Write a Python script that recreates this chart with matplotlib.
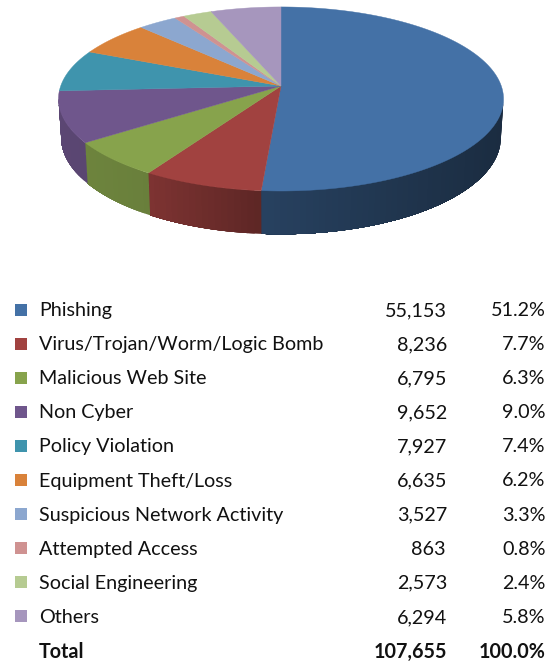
import numpy as np
import matplotlib
matplotlib.use("Agg")
import matplotlib.pyplot as plt
from matplotlib.patches import Polygon, Rectangle

categories = ["Phishing", "Virus/Trojan/Worm/Logic Bomb", "Malicious Web Site", "Non Cyber",
              "Policy Violation", "Equipment Theft/Loss", "Suspicious Network Activity",
              "Attempted Access", "Social Engineering", "Others"]
counts = [55153, 8236, 6795, 9652, 7927, 6635, 3527, 863, 2573, 6294]
count_labels = ["55,153", "8,236", "6,795", "9,652", "7,927", "6,635", "3,527", "863", "2,573", "6,294"]
pct_labels = ["51.2%", "7.7%", "6.3%", "9.0%", "7.4%", "6.2%", "3.3%", "0.8%", "2.4%", "5.8%"]
colors = ["#4471a6", "#a14240", "#87a34c", "#6f568c", "#3f94ad", "#d9823a",
          "#8ca7cf", "#cf9291", "#b6cb92", "#a696bd"]
total_label = "Total"
total_count = "107,655"
total_pct = "100.0%"

plt.rcParams['font.family'] = ['Lato', 'DejaVu Sans']

# perspective of the tilted disc, in pixels
cx, cy = 281, 86
R, A, k = 220.3, 90.2, 0.141


def project(theta):
    u = np.sin(theta)
    v = -np.cos(theta)
    w = 1 - k * v
    return R * u / w, A * v / w


def top_xy(theta):
    x, y = project(theta)
    return cx + x, cy + y


def bottom_xy(theta):
    x, y = project(theta)
    return cx + x * 0.988, cy + 38 + y * 1.05


def darker(color, f):
    rgb = np.array(matplotlib.colors.to_rgb(color))
    return tuple(rgb * f)


fig = plt.figure(figsize=(5.47, 6.63), dpi=100)
ax = fig.add_axes([0, 0, 1, 1])
ax.set_xlim(0, 547)
ax.set_ylim(663, 0)
ax.axis("off")

edges = 2 * np.pi * np.cumsum([0] + counts) / sum(counts)

# side wall, only the part facing the viewer. strips overlap so no seams show
for i, c in enumerate(colors):
    start = max(edges[i], np.arccos(-k))
    stop = min(edges[i + 1], 2 * np.pi - np.arccos(-k))
    if stop <= start:
        continue
    steps = np.linspace(start, stop, max(2, int((stop - start) * 40)))
    for a, b in zip(steps[:-1], steps[1:]):
        t = np.linspace(a, stop, 40)
        xs, ys = top_xy(t)
        xb, yb = bottom_xy(t)
        pts = list(zip(xs, ys)) + list(zip(xb[::-1], yb[::-1]))
        xm = top_xy((a + b) / 2)[0]
        f = np.interp(xm, [60, 148, 261, 503], [0.82, 0.78, 0.58, 0.39])
        ax.add_patch(Polygon(pts, closed=True, facecolor=darker(c, f), edgecolor="none"))

# top face
for i, c in enumerate(colors):
    t = np.linspace(edges[i], edges[i + 1], 200)
    xs, ys = top_xy(t)
    pts = [(cx, cy)] + list(zip(xs, ys))
    ax.add_patch(Polygon(pts, closed=True, facecolor=c, edgecolor=c, lw=0.3))

# table under the pie
row_y = 310.5
row_step = 34.1
fs = 14.2
for i, name in enumerate(categories):
    y = row_y + i * row_step
    ax.add_patch(Rectangle((14.5, y - 7), 12, 12, facecolor=colors[i], edgecolor="none"))
    ax.text(39, y, name, fontsize=fs, va="center", ha="left", color="#111111")
    if count_labels[i] == "863":
        ax.text(428, y, count_labels[i], fontsize=fs, va="center", ha="center", color="#111111")
    else:
        ax.text(447, y, count_labels[i], fontsize=fs, va="center", ha="right", color="#111111")
    ax.text(545.5, y, pct_labels[i], fontsize=fs, va="center", ha="right", color="#111111")

y = row_y + 10 * row_step
ax.text(39, y, total_label, fontsize=fs, va="center", ha="left", fontweight="bold", color="#111111")
ax.text(447, y, total_count, fontsize=fs, va="center", ha="right", fontweight="bold", color="#111111")
ax.text(545.5, y, total_pct, fontsize=fs, va="center", ha="right", fontweight="bold", color="#111111")

fig.savefig("out.png", dpi=100)
